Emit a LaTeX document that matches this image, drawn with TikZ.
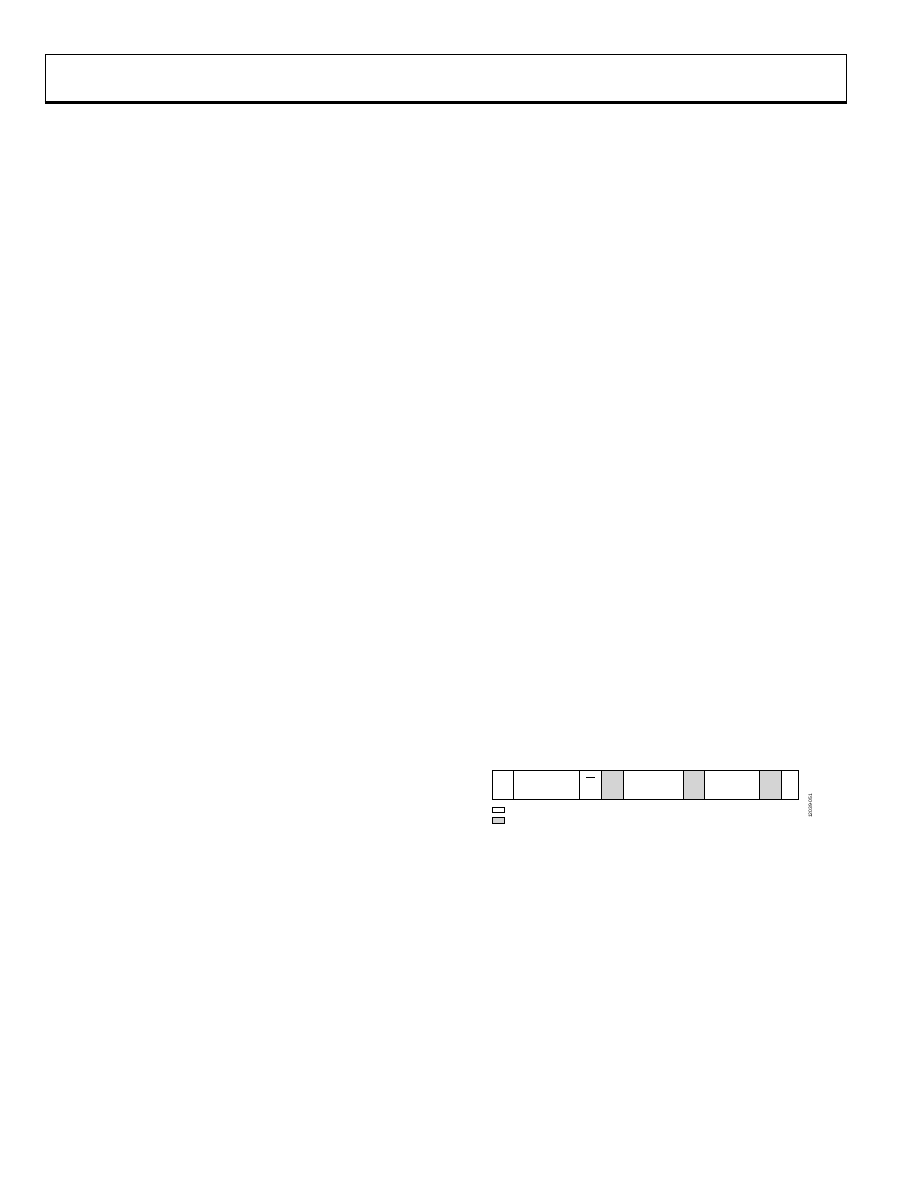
\documentclass[tikz,border=0pt]{standalone}
\usepackage{fontspec}
\setmainfont{Liberation Sans}
\begin{document}
\begin{tikzpicture}[x=1pt,y=-1pt,
  cellbox/.style={draw=black,line width=1pt},
  graycell/.style={draw=black,line width=1pt,fill=black!17},
  legendbox/.style={draw=black,line width=0.9pt}]
\useasboundingbox (0,0) rectangle (918,1188);
% header frame
\draw[line width=0.9pt] (45,103) -- (45,54) -- (846,54) -- (846,103);
\draw[line width=2.4pt] (44.5,102.5) -- (846.5,102.5);
% row of cells
\node[cellbox,minimum width=21pt,minimum height=29pt,inner sep=0pt,anchor=north west] (c1) at (492.3,770) {};
\node[cellbox,minimum width=65.4pt,minimum height=29pt,inner sep=0pt,anchor=north west] (c2) at (513.3,770) {};
\node[cellbox,minimum width=22.6pt,minimum height=29pt,inner sep=0pt,anchor=north west] (c3) at (578.7,770) {};
\node[graycell,minimum width=21.4pt,minimum height=29pt,inner sep=0pt,anchor=north west] (c4) at (601.3,770) {};
\node[cellbox,minimum width=60.6pt,minimum height=29pt,inner sep=0pt,anchor=north west] (c5) at (622.7,770) {};
\node[graycell,minimum width=21pt,minimum height=29pt,inner sep=0pt,anchor=north west] (c6) at (683.3,770) {};
\node[cellbox,minimum width=55pt,minimum height=29pt,inner sep=0pt,anchor=north west] (c7) at (704.3,770) {};
\node[graycell,minimum width=21.4pt,minimum height=29pt,inner sep=0pt,anchor=north west] (c8) at (759.3,770) {};
\node[cellbox,minimum width=17.6pt,minimum height=29pt,inner sep=0pt,anchor=north west] (c9) at (780.7,770) {};
% short bar in cell 3
\draw[line width=0.9pt] (586,777.3) -- (595,777.3);
% legend
\node[legendbox,minimum width=12pt,minimum height=5pt,inner sep=0pt,anchor=north west] (l1) at (492.3,807.3) {};
\node[legendbox,fill=black!17,minimum width=12pt,minimum height=5.4pt,inner sep=0pt,anchor=north west] (l2) at (492.3,817.3) {};
% figure id
\node[rotate=90,font=\fontsize{5}{6}\selectfont,inner sep=0pt] (fid) at (810.5,806) {12039-051};
\end{tikzpicture}
\end{document}
